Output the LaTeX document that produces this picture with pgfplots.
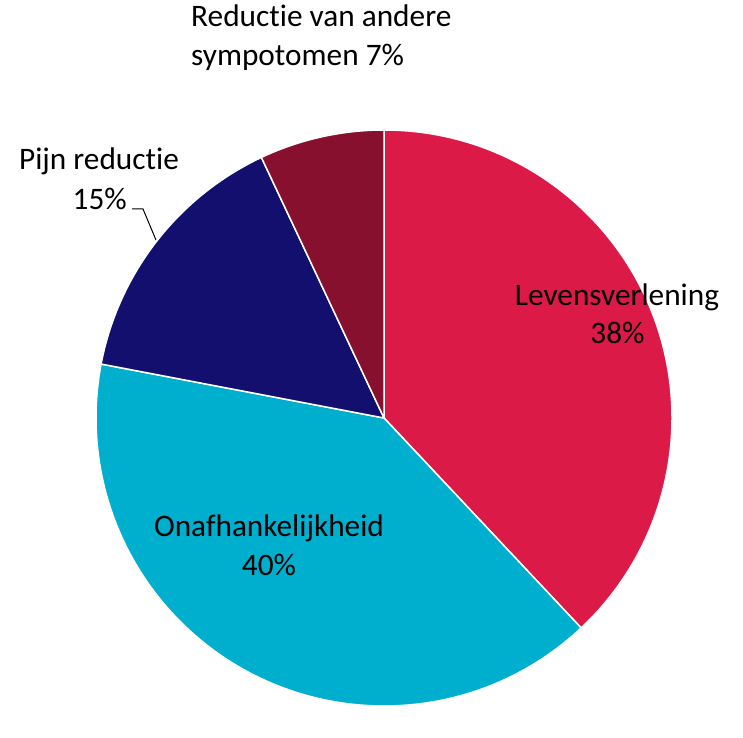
\documentclass[border=0pt]{standalone}
\usepackage{pgfplots}
\pgfplotsset{compat=1.18}
\usepackage{fontspec}
\setmainfont{Carlito}[Ligatures=NoCommon]
\definecolor{cLev}{HTML}{DC1A48}
\definecolor{cOnaf}{HTML}{00AFCD}
\definecolor{cPijn}{HTML}{120F6F}
\definecolor{cRed}{HTML}{86102D}
\pgfplotsset{
  pie slice/.style={
    scatter, only marks, mark=*, mark size=0pt, mark options={white},
    point meta=explicit, 
    visualization depends on={90-3.6*\thisrow{cum} \as \angA},
    visualization depends on={90-3.6*(\thisrow{cum}+\thisrow{pct}) \as \angB},
    scatter/@pre marker code/.code={%
      \fill[fill=#1, draw=white, line width=1.5pt, line join=round]
        (0pt,0pt) -- (\angA:288pt) arc[start angle=\angA, end angle=\angB, radius=288pt] -- cycle;
    },
    scatter/@post marker code/.code={},
  },
}
\tikzset{lbl/.style={font=\fontsize{31.3}{38}\selectfont, text=black, inner sep=0pt}}
\begin{document}
\begin{tikzpicture}
\begin{axis}[
  scale only axis, width=743pt, height=707pt,
  xmin=0, xmax=743, ymin=0, ymax=707,
  hide axis, clip=false,
]
% slices clockwise from 12 o'clock; pct = share in %, cum = share before the slice
\addplot[pie slice=cLev]  table[meta=pct] {x y pct cum
384 289 38 0
};
\addplot[pie slice=cOnaf] table[meta=pct] {x y pct cum
384 289 40 38
};
\addplot[pie slice=cPijn] table[meta=pct] {x y pct cum
384 289 15 78
};
\addplot[pie slice=cRed]  table[meta=pct] {x y pct cum
384 289 7 93
};
% leader line for Pijn reductie
\addplot[black, line width=1pt, mark=none] coordinates {(132,498) (143,498) (156,467)};
\coordinate (bl) at (axis cs:0,0);
\coordinate (tr) at (axis cs:743,707);
\coordinate (L1) at (axis cs:617,401.3);
\coordinate (L2) at (axis cs:617.5,363);
\coordinate (O1) at (axis cs:269,170.3);
\coordinate (O2) at (axis cs:269,132);
\coordinate (P1) at (axis cs:99,537);
\coordinate (P2) at (axis cs:99.7,497.7);
\coordinate (R1) at (axis cs:191,680);
\coordinate (R2) at (axis cs:191,641.3);
\end{axis}
\useasboundingbox (bl) rectangle (tr);
\node[lbl, anchor=base] at (L1) {Levensverlening};
\node[lbl, anchor=base] at (L2) {38\%};
\node[lbl, anchor=base] at (O1) {Onafhankelijkheid};
\node[lbl, anchor=base] at (O2) {40\%};
\node[lbl, anchor=base] at (P1) {Pijn reductie};
\node[lbl, anchor=base] at (P2) {15\%};
\node[lbl, anchor=base west] at (R1) {Reductie van andere};
\node[lbl, anchor=base west] at (R2) {sympotomen 7\%};
\end{tikzpicture}
\end{document}
